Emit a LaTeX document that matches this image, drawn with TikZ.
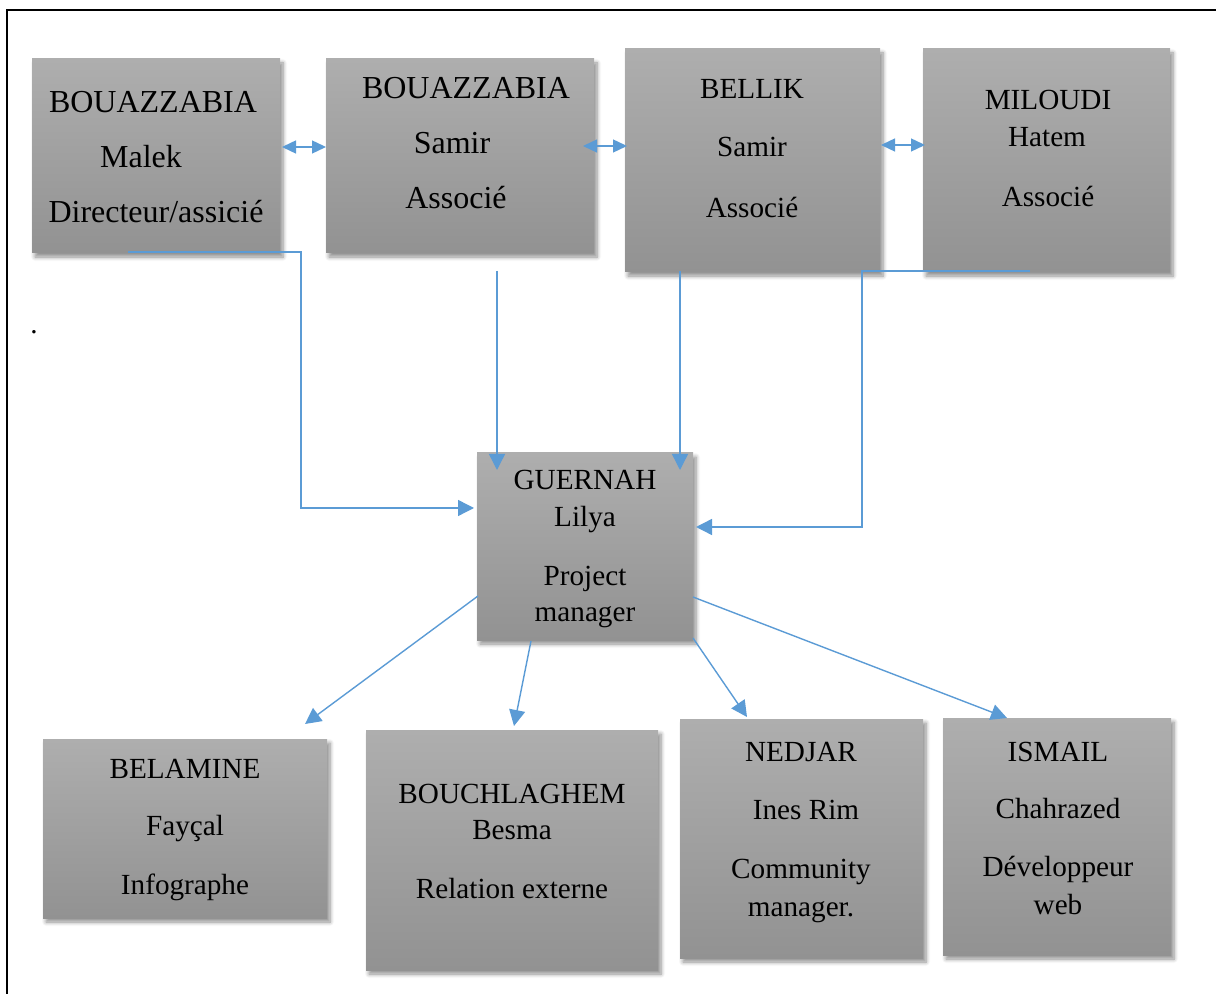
\documentclass[tikz,border=0pt]{standalone}
\usepackage{fontspec}
\setmainfont{Liberation Serif}
\usetikzlibrary{arrows.meta,calc,shadows,shadows.blur}
\definecolor{boxtop}{HTML}{AEAEAE}
\definecolor{boxbot}{HTML}{929292}
\definecolor{arrowblue}{HTML}{5B9BD5}
\tikzset{
 box/.style={rectangle, inner sep=0pt, outer sep=0pt, anchor=north west, top color=boxtop, bottom color=boxbot,
   blur shadow={shadow xshift=1.5pt, shadow yshift=-2pt, shadow blur steps=6, shadow blur radius=2pt, shadow opacity=45}},
 txt/.style={anchor=base, inner sep=0pt, font=\fontsize{14.6}{18}\selectfont},
 txtb/.style={anchor=base, inner sep=0pt, font=\fontsize{16}{19}\selectfont},
 conn/.style={draw=arrowblue, line width=0.7pt, -{Triangle[length=8pt,width=8pt]}},
 dbl/.style={draw=arrowblue, line width=0.7pt, {Triangle[length=7pt,width=6.5pt]}-{Triangle[length=7pt,width=6.5pt]}},
 frame/.style={draw=black, line width=1.2pt},
}
\begin{document}
\begin{tikzpicture}[x=0.5pt,y=-0.5pt]
\useasboundingbox (0,0) rectangle (1216,994);
\clip (0,0) rectangle (1216,994);
\draw[frame] (7,10) rectangle (1240,1020);

% boxes
\node[box, minimum width=124pt, minimum height=97pt] (b1) at (32,59) {};
\node[box, minimum width=134pt, minimum height=97pt] (b2) at (326,59) {};
\node[box, minimum width=127.5pt, minimum height=111.5pt] (b3) at (625,49) {};
\node[box, minimum width=123.5pt, minimum height=111.5pt] (b4) at (923,49) {};
\node[box, minimum width=108pt, minimum height=93.5pt] (g) at (477,453) {};
\node[box, minimum width=142pt, minimum height=89.5pt] (b6) at (43,739) {};
\node[box, minimum width=146pt, minimum height=120pt] (b7) at (366,730) {};
\node[box, minimum width=121.5pt, minimum height=119.5pt] (b8) at (680,719) {};
\node[box, minimum width=114pt, minimum height=118.5pt] (b9) at (943,718) {};

% texts
\node[txtb] (t11) at (153,113) {BOUAZZABIA};
\node[txtb] (t12) at (141,168) {Malek};
\node[txtb] (t13) at (156,223) {Directeur/assicié};
\node[txtb] (t21) at (466,99) {BOUAZZABIA};
\node[txtb] (t22) at (452,154) {Samir};
\node[txtb] (t23) at (456,209) {Associé};
\node[txt] (t31) at (752,99) {BELLIK};
\node[txt] (t32) at (752,157) {Samir};
\node[txt] (t33) at (752,218) {Associé};
\node[txt] (t41) at (1048,110) {MILOUDI};
\node[txt] (t42) at (1047,147) {Hatem};
\node[txt] (t43) at (1048,207) {Associé};
\node[txt] (tg1) at (585,490) {GUERNAH};
\node[txt] (tg2) at (585,527) {Lilya};
\node[txt] (tg3) at (585,585) {Project};
\node[txt] (tg4) at (585,621) {manager};
\node[txt] (t61) at (185,778) {BELAMINE};
\node[txt] (t62) at (185,835) {Fayçal};
\node[txt] (t63) at (185,894) {Infographe};
\node[txt] (t71) at (512,803) {BOUCHLAGHEM};
\node[txt] (t72) at (512,839) {Besma};
\node[txt] (t73) at (512,898) {Relation externe};
\node[txt] (t81) at (801,761) {NEDJAR};
\node[txt] (t82) at (806,819) {Ines Rim};
\node[txt] (t83) at (801,878) {Community};
\node[txt] (t84) at (801,916) {manager.};
\node[txt] (t91) at (1058,761) {ISMAIL};
\node[txt] (t92) at (1058,818) {Chahrazed};
\node[txt] (t93) at (1058,876) {Développeur};
\node[txt] (t94) at (1058,914) {web};
\node[txt] (dot) at (34,334) {.};

% double arrows
\draw[dbl] ($(b1.north east)+(2,88)$) -- ($(b2.north west)+(0,88)$);
\draw[dbl] ($(b2.north east)+(-11,87)$) -- ($(b3.north west)+(2,97)$);
\draw[dbl] ($(b3.north east)+(1,96)$) -- ($(b4.north west)+(2,96)$);

% connectors to project manager
\draw[conn] ($(b1.south west)+(96,-1)$) -- ++(173,0) |- ($(g.north west)+(-3,55)$);
\draw[conn] ($(b2.south west)+(171,18)$) -- ($(g.north west)+(20,17)$);
\draw[conn] ($(b3.south west)+(55,-1)$) -- ($(g.north east)+(-13,17)$);
\draw[conn] ($(b4.south west)+(107,-1)$) -- ++(-168,0) |- ($(g.north east)+(3,74)$);

% connectors from project manager
\draw[conn] ($(g.south west)+(1,-44)$) -- ($(b6.north west)+(262,-15)$);
\draw[conn] ($(g.south west)+(54,1)$) -- ($(b7.north west)+(148,-4)$);
\draw[conn] ($(g.south east)+(0,-2)$) -- ($(b8.north west)+(67,-2)$);
\draw[conn] ($(g.south east)+(0,-43)$) -- ($(b9.north west)+(64,0)$);
\end{tikzpicture}
\end{document}
